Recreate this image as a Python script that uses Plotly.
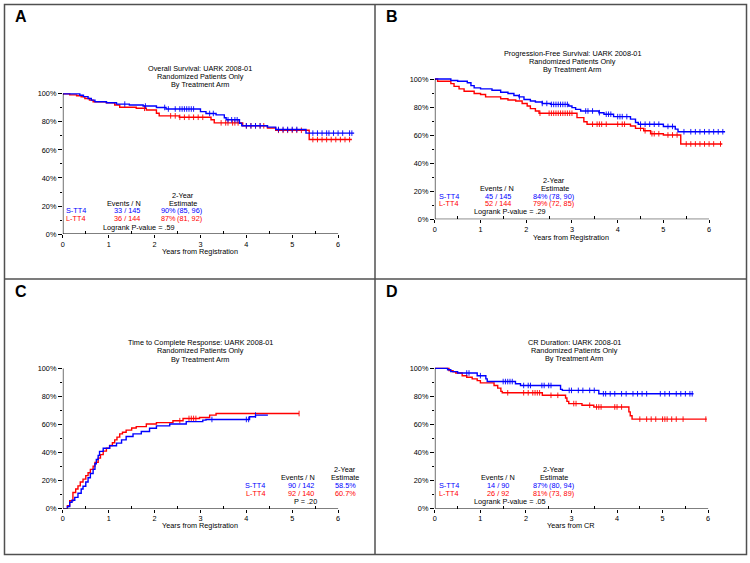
import plotly.graph_objects as go

W, H = 750, 563
FONT = "Liberation Sans, Arial, sans-serif"
FS = 7.3
BLUE = "#0000FF"
RED = "#FF0000"

# ---------------- data ----------------
# Panel A: Overall Survival
A_S_t = [0, 0.37, 0.45, 0.55, 0.62, 0.7, 0.95, 1.17, 1.45, 1.75, 2.04, 2.25, 3.0, 3.12, 3.34, 3.52, 3.56, 3.85, 3.9, 4.46, 4.64, 5.3, 6.35]
A_S_s = [100, 99, 98, 96.7, 95.5, 94.4, 93.7, 92.7, 92, 91.3, 90.3, 89.2, 87.3, 86, 85, 83, 81.5, 79, 77.2, 76.3, 74.6, 72, 72]
A_L_t = [0, 0.15, 0.3, 0.4, 0.48, 0.58, 0.66, 0.95, 1.13, 1.24, 1.6, 1.82, 2.04, 2.1, 2.54, 3.23, 3.3, 3.92, 4.46, 4.64, 5.37, 6.3]
A_L_s = [100, 99.3, 98.6, 97.9, 96.7, 95.5, 94.4, 93.7, 92, 90.4, 89.7, 88.5, 86.2, 84.3, 83.3, 81.5, 79.3, 77.2, 75.6, 74, 67.4, 67.4]
A_S_cens = [1.35, 1.8, 2.22, 2.3, 2.45, 2.55, 2.6, 2.65, 2.7, 2.75, 2.8, 2.85, 3.2, 3.28, 3.6, 3.68, 3.75, 3.8, 4.0, 4.1, 4.2, 4.3,
            4.7, 4.8, 4.9, 5.0, 5.1, 5.45, 5.55, 5.65, 5.75, 5.8, 5.9, 6.0, 6.1, 6.25, 6.3]
A_L_cens = [1.78, 2.35, 2.45, 2.55, 2.65, 2.75, 2.85, 2.95, 3.05, 3.45, 3.55, 3.6, 3.7, 3.75, 3.82, 4.0, 4.1, 4.2, 4.3, 4.38,
            4.7, 4.8, 4.9, 5.0, 5.1, 5.2, 5.45, 5.55, 5.65, 5.75, 5.85, 5.95, 6.05, 6.15, 6.25]

# Panel B: Progression-Free Survival
B_S_t = [0, 0.35, 0.5, 0.71, 0.79, 0.86, 1.0, 1.25, 1.44, 1.6, 1.73, 1.84, 1.95, 2.09, 2.2, 2.35, 2.53, 2.93, 3.0, 3.08, 3.19,
         3.59, 3.7, 3.91, 4.28, 4.39, 4.45, 5.0, 5.26, 5.32, 6.35]
B_S_s = [100, 99, 98.4, 97.3, 95.3, 93.7, 93, 92, 90.6, 89.7, 88.3, 87.3, 85.4, 84.3, 83.6, 82.6, 81.9, 80.8, 79.6, 78.4, 77.2,
         76, 74.9, 73.2, 71.4, 69, 67.8, 66.2, 64.3, 62.4, 62.4]
B_L_t = [0, 0.06, 0.35, 0.42, 0.53, 0.64, 0.86, 1.0, 1.11, 1.44, 1.6, 1.77, 1.91, 2.02, 2.09, 2.2, 2.28, 3.11, 3.26, 3.33,
         4.28, 4.39, 4.57, 4.72, 5.0, 5.38, 6.29]
B_L_s = [100, 98.4, 96.7, 94.8, 93, 91.3, 89.7, 89, 87.3, 85.9, 85, 84.3, 82.6, 80.8, 78.9, 77.2, 75.6, 72.5, 69.5, 67.8,
         66.5, 64.8, 63.1, 61, 60.1, 53.7, 53.7]
B_S_cens = [1.85, 2.35, 2.45, 2.55, 2.6, 2.65, 2.7, 2.75, 2.8, 2.85, 2.9, 3.3, 3.35, 3.45, 3.6, 3.75, 3.8, 3.85, 4.0, 4.05, 4.1,
            4.2, 4.5, 4.6, 4.7, 4.8, 4.9, 5.1, 5.2, 5.45, 5.6, 5.7, 5.8, 5.9, 6.0, 6.1, 6.2, 6.3]
B_L_cens = [2.3, 2.5, 2.55, 2.6, 2.65, 2.7, 2.75, 2.8, 2.85, 2.9, 2.95, 3.0, 3.45, 3.55, 3.6, 3.65, 3.75, 4.0, 4.1, 4.15,
            4.5, 4.6, 4.75, 4.8, 4.9, 5.1, 5.2, 5.3, 5.5, 5.6, 5.7, 5.8, 5.9, 6.0, 6.1, 6.25]

# Panel C: Time to Complete Response (cumulative)
C_S_t = [0, 0.1, 0.15, 0.2, 0.26, 0.33, 0.4, 0.44, 0.5, 0.55, 0.6, 0.66, 0.7, 0.73, 0.77, 0.8, 0.88, 1.02, 1.17, 1.28, 1.38,
         1.53, 1.71, 1.89, 2.04, 2.33, 2.69, 3.05, 3.12, 4.07, 4.2, 4.47]
C_S_s = [0, 1.5, 4.5, 6, 8, 11, 14, 16, 19, 22, 25, 28, 32, 35, 38, 40.8, 43, 44.8, 46.7, 49, 51.4,
         53.3, 55, 57.3, 59, 60.3, 62, 63.1, 63.6, 65.5, 66.7, 66.7]
C_L_t = [0, 0.1, 0.15, 0.22, 0.28, 0.33, 0.38, 0.44, 0.5, 0.55, 0.6, 0.66, 0.7, 0.77, 0.82, 0.88, 0.95, 1.02, 1.08, 1.13,
         1.18, 1.24, 1.3, 1.38, 1.5, 1.6, 1.82, 2.04, 2.4, 2.62, 2.98, 3.2, 3.34, 5.15]
C_L_s = [0, 2, 5.6, 11.5, 14, 16.2, 19, 21, 23.5, 25.6, 28, 30.3, 33, 36, 38.5, 41, 43, 45, 47, 49,
         51, 53.3, 54.5, 56, 57.5, 58.5, 60.3, 61.3, 62.7, 64.3, 65, 66.7, 67.8, 67.8]
C_S_cens = [3.25, 4.0, 4.05, 4.2]
C_L_cens = [2.55, 2.75, 2.8, 2.85, 2.9, 5.15]

# Panel D: CR Duration
D_S_t = [0, 0.28, 0.35, 0.5, 0.93, 1.12, 1.15, 1.77, 1.88, 2.76, 2.8, 3.6, 5.68]
D_S_s = [100, 99, 97.7, 96.7, 94.8, 92.5, 90.6, 89, 87.8, 85, 84.3, 81.9, 81.9]
D_L_t = [0, 0.31, 0.4, 0.46, 0.6, 0.7, 0.82, 0.93, 1.0, 1.3, 1.38, 1.45, 1.48, 2.36, 2.87, 2.9, 2.94, 3.23, 3.49, 4.26, 4.29, 4.33, 5.97]
D_L_s = [100, 98.4, 97.5, 96.7, 94.8, 93.7, 92.5, 91.3, 89.7, 87.8, 85.9, 83.6, 82.6, 80.8, 78.9, 76.5, 74.9, 73.7, 72.5, 69, 66.2, 63.8, 63.8]
D_S_cens = [0.7, 0.75, 1.0, 1.5, 1.55, 1.6, 1.65, 1.7, 1.95, 2.05, 2.1, 2.35, 2.4, 2.5, 2.55, 2.95, 3.0, 3.15, 3.25, 3.4, 3.5,
            3.7, 3.75, 3.85, 3.95, 4.1, 4.2, 4.35, 4.45, 4.55, 4.65, 4.95, 5.05, 5.15, 5.3, 5.4, 5.5, 5.6, 5.65]
D_L_cens = [1.6, 1.95, 2.05, 2.15, 2.2, 2.25, 2.3, 2.55, 2.7, 3.05, 3.1, 3.4, 3.55, 3.6, 3.65, 3.95, 4.0, 4.1, 4.5, 4.65,
            4.75, 4.85, 5.0, 5.05, 5.1, 5.2, 5.3, 5.45, 5.95]

X_TICKS = [0, 1, 2, 3, 4, 5, 6]
X_MINOR = [0.5, 1.5, 2.5, 3.5, 4.5, 5.5]
Y_TICKS = [0, 20, 40, 60, 80, 100]
Y_TICKTEXT = ["0%", "20%", "40%", "60%", "80%", "100%"]
Y_MINOR = [10, 30, 50, 70, 90]

# ---------------- helpers ----------------
def px(x):
    return x / W

def py(y):
    return 1 - y / H

def step_value(ts, ss, t):
    v = ss[0]
    for ti, si in zip(ts, ss):
        if ti <= t:
            v = si
        else:
            break
    return v

X_MAX = 6.6
Y_MAX = 102

panels = [
    dict(n="", x0=61, ppy=46.0, y0=235, S=(A_S_t, A_S_s, A_S_cens), L=(A_L_t, A_L_s, A_L_cens)),
    dict(n="2", x0=434, ppy=45.83, y0=220, S=(B_S_t, B_S_s, B_S_cens), L=(B_L_t, B_L_s, B_L_cens)),
    dict(n="3", x0=61, ppy=46.0, y0=513, S=(C_S_t, C_S_s, C_S_cens), L=(C_L_t, C_L_s, C_L_cens)),
    dict(n="4", x0=434, ppy=45.67, y0=513, S=(D_S_t, D_S_s, D_S_cens), L=(D_L_t, D_L_s, D_L_cens)),
]

fig = go.Figure()
layout = dict(
    width=W, height=H, margin=dict(l=0, r=0, t=0, b=0),
    paper_bgcolor="white", plot_bgcolor="white", showlegend=False,
    font=dict(family=FONT, size=FS, color="black"),
)
shapes = []
annotations = []

for p in panels:
    n = p["n"]
    xa, ya = "x" + n, "y" + n
    for (ts, ss, cens), col in ((p["L"], RED), (p["S"], BLUE)):
        fig.add_trace(go.Scatter(x=ts, y=ss, mode="lines", line=dict(color=col, width=1.4, shape="hv"),
                                 xaxis=xa, yaxis=ya, hoverinfo="skip"))
        fig.add_trace(go.Scatter(x=cens, y=[step_value(ts, ss, c) for c in cens], mode="markers",
                                 marker=dict(symbol="line-ns-open", size=4, color=col,
                                             line=dict(color=col, width=0.9)),
                                 xaxis=xa, yaxis=ya, hoverinfo="skip"))
    x1 = p["x0"] + X_MAX * p["ppy"]
    ytop = p["y0"] - Y_MAX * 1.42
    layout["xaxis" + n] = dict(
        domain=[px(p["x0"]), px(x1)], range=[0, X_MAX], anchor=ya,
        showline=False, showgrid=False, zeroline=False,
        tickmode="array", tickvals=X_TICKS, ticktext=[str(v) for v in X_TICKS],
        ticks="outside", ticklen=3, tickwidth=1, tickcolor="black",
        tickfont=dict(family=FONT, size=FS, color="black"),
        minor=dict(tickmode="array", tickvals=X_MINOR, ticks="inside", ticklen=3, tickwidth=1,
                   tickcolor="black", showgrid=False),
    )
    layout["yaxis" + n] = dict(
        domain=[py(p["y0"]), py(ytop)], range=[0, Y_MAX], anchor=xa,
        showline=False, showgrid=False, zeroline=False,
        tickmode="array", tickvals=Y_TICKS, ticktext=Y_TICKTEXT,
        ticks="outside", ticklen=4, tickwidth=1, tickcolor="black",
        tickfont=dict(family=FONT, size=FS, color="black"),
        minor=dict(tickmode="array", tickvals=Y_MINOR, ticks="outside", ticklen=2, tickwidth=1,
                   tickcolor="black", showgrid=False),
    )
    shapes.append(dict(type="line", xref=xa, yref=ya, x0=0, x1=6, y0=0, y1=0,
                       line=dict(color="black", width=1.2)))
    shapes.append(dict(type="line", xref=xa, yref=ya, x0=0, x1=0, y0=0, y1=100,
                       line=dict(color="black", width=1.2)))

# panel frames
BORDER = dict(color="#505050", width=1.5)
shapes.append(dict(type="rect", xref="paper", yref="paper", x0=px(2.5), x1=px(746.5), y0=py(559.5), y1=py(2.5),
                   line=BORDER, layer="above"))
shapes.append(dict(type="line", xref="paper", yref="paper", x0=px(374), x1=px(374), y0=py(559.5), y1=py(2.5),
                   line=BORDER))
shapes.append(dict(type="line", xref="paper", yref="paper", x0=px(2.5), x1=px(746.5), y0=py(280.5), y1=py(280.5),
                   line=BORDER))


def ann(text, x, y, color="black", anchor="center", size=FS, bold=False):
    annotations.append(dict(
        text=("<b>%s</b>" % text) if bold else text, x=px(x), y=py(y), xref="paper", yref="paper",
        xanchor=anchor, yanchor="middle", showarrow=False, borderpad=0,
        font=dict(family=FONT, size=size, color=color),
    ))

# panel letters
ann("A", 19, 15, size=16, bold=True)
ann("B", 391, 15, size=16, bold=True)
ann("C", 19, 293, size=16, bold=True)
ann("D", 391, 293, size=16, bold=True)

# titles
for lines, cx, ys in (
    (["Overall Survival: UARK 2008-01", "Randomized Patients Only", "By Treatment Arm"], 199, [67, 75.3, 83.6]),
    (["Progression-Free Survival: UARK 2008-01", "Randomized Patients Only", "By Treatment Arm"], 572, [52, 60.3, 68.6]),
    (["Time to Complete Response: UARK 2008-01", "Randomized Patients Only", "By Treatment Arm"], 199, [345, 353.3, 361.6]),
    (["CR Duration: UARK 2008-01", "Randomized Patients Only", "By Treatment Arm"], 574, [344.3, 352.6, 360.9]),
):
    for t, yy in zip(lines, ys):
        ann(t, cx, yy)

# axis titles
ann("Years from Registration", 199, 252.5)
ann("Years from Registration", 571, 238.5)
ann("Years from Registration", 199, 530.5)
ann("Years from CR", 571, 530.5)

# Panel A table
ann("2-Year", 181, 196)
ann("Events / N", 122, 204)
ann("Estimate", 181, 204)
ann("S-TT4", 63, 211.5, BLUE, "left")
ann("33 / 145", 125, 211.5, BLUE)
ann("90%", 158, 211.5, BLUE, "left")
ann("(85, 96)", 174, 211.5, BLUE, "left")
ann("L-TT4", 63, 219.5, RED, "left")
ann("36 / 144", 125, 219.5, RED)
ann("87%", 158, 219.5, RED, "left")
ann("(81, 92)", 174, 219.5, RED, "left")
ann("Logrank P-value = .59", 100, 228, "black", "left")

# Panel B table
ann("2-Year", 553, 181)
ann("Events / N", 496, 189)
ann("Estimate", 554, 189)
ann("S-TT4", 437, 196.5, BLUE, "left")
ann("45 / 145", 497, 196.5, BLUE)
ann("84%", 531, 196.5, BLUE, "left")
ann("(78, 90)", 547, 196.5, BLUE, "left")
ann("L-TT4", 437, 204.5, RED, "left")
ann("52 / 144", 497, 204.5, RED)
ann("79%", 531, 204.5, RED, "left")
ann("(72, 85)", 547, 204.5, RED, "left")
ann("Logrank P-value = .29", 472, 212, "black", "left")

# Panel C table
ann("2-Year", 344, 473)
ann("Events / N", 297, 481.5)
ann("Estimate", 344, 481.5)
ann("S-TT4", 254, 490, BLUE)
ann("90 / 142", 300, 490, BLUE)
ann("58.5%", 344, 490, BLUE)
ann("L-TT4", 254, 498, RED)
ann("92 / 140", 300, 498, RED)
ann("60.7%", 344, 498, RED)
ann("P = .20", 304, 506)

# Panel D table
ann("2-Year", 553, 473)
ann("Events / N", 497, 481.5)
ann("Estimate", 553, 481.5)
ann("S-TT4", 437, 490, BLUE, "left")
ann("14 / 90", 497, 490, BLUE)
ann("87%", 531, 490, BLUE, "left")
ann("(80, 94)", 547, 490, BLUE, "left")
ann("L-TT4", 437, 498, RED, "left")
ann("26 / 92", 497, 498, RED)
ann("81%", 531, 498, RED, "left")
ann("(73, 89)", 547, 498, RED, "left")
ann("Logrank P-value = .05", 472, 506, "black", "left")

layout["shapes"] = shapes
layout["annotations"] = annotations
fig.update_layout(**layout)
fig.write_html("out.html", config={"displayModeBar": False, "staticPlot": True},
               post_script="document.body.style.margin='0';document.body.style.overflow='hidden';")
